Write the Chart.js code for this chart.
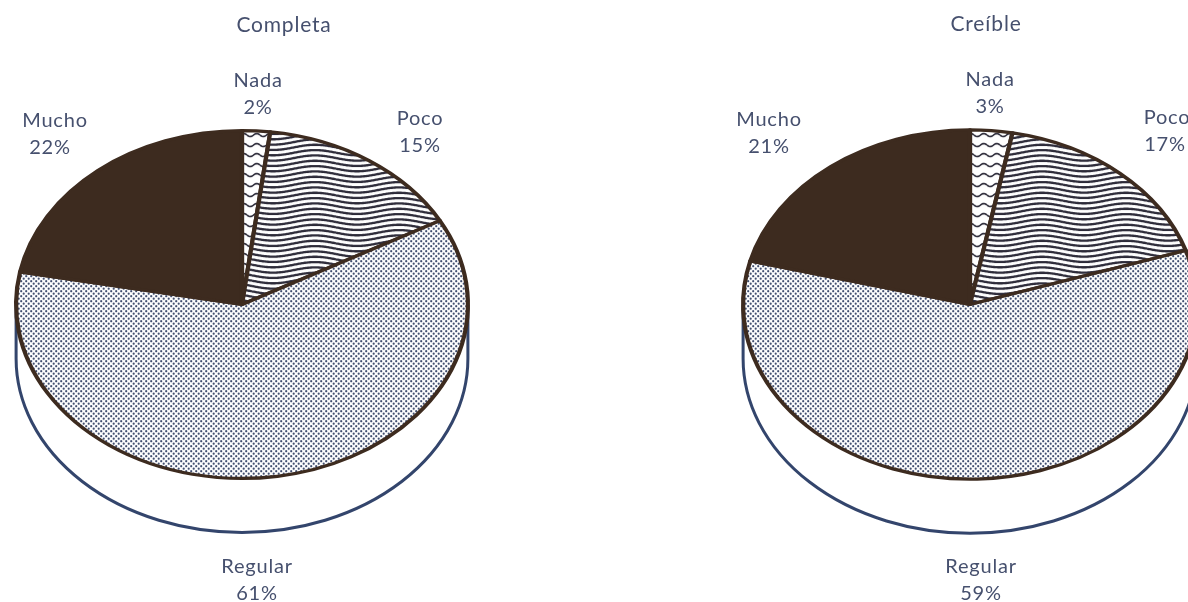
<!DOCTYPE html>
<html lang="es">
<head>
<meta charset="utf-8">
<title>Completa / Creíble</title>
<script src="https://cdn.jsdelivr.net/npm/chart.js@4/dist/chart.umd.min.js"></script>
<style>
    html, body { margin: 0; background: #fff; overflow: hidden; width: 1188px; height: 602px; }
    canvas { position: absolute; top: 0; }
    #pieLeft { left: 0; }
    #pieRight { left: 727px; }
</style>
</head>
<body>
<canvas id="pieLeft" width="484" height="602"></canvas>
<canvas id="pieRight" width="486" height="602"></canvas>

<script>
    var categories = ['Nada', 'Poco', 'Regular', 'Mucho'];
    var completaValues = [2, 15, 61, 22];
    var creibleValues = [3, 17, 59, 21];

    // the pie is tilted: squash y, and the wall hangs below it
    var SQUASH = 0.77;
    var WALL = 54;
    var BROWN = '#3d2b1f';
    var NAVY = '#33456c';
    var TEXT = '#46506e';

    function tile(w, h, paint) {
        var c = document.createElement('canvas');
        c.width = w;
        c.height = h;
        var g = c.getContext('2d');
        g.fillStyle = '#fff';
        g.fillRect(0, 0, w, h);
        paint(g);
        // undo the squash so the hatching keeps its own size
        var pattern = g.createPattern(c, 'repeat');
        pattern.setTransform(new DOMMatrix().scale(1, 1 / SQUASH));
        return pattern;
    }

    function waves(w, h, gap, amp, width, color) {
        return tile(w, h, function (g) {
            g.strokeStyle = color;
            g.lineWidth = width;
            for (var y = -gap; y < h + gap; y += gap) {
                g.beginPath();
                for (var x = 0; x <= w; x++) {
                    var yy = y + gap / 2 + amp * Math.sin(2 * Math.PI * x / w);
                    if (x === 0) g.moveTo(x, yy); else g.lineTo(x, yy);
                }
                g.stroke();
            }
        });
    }

    var stipple = tile(5, 5, function (g) {
        g.fillStyle = '#3c4a6c';
        [[1.2, 1.2], [3.7, 3.7]].forEach(function (p) {
            g.beginPath();
            g.arc(p[0], p[1], 1.1, 0, Math.PI * 2);
            g.fill();
        });
    });

    var sliceFills = [
        waves(13, 10, 10, 1.5, 1.6, '#2c2a38'),
        waves(84, 16, 16 / 3, 2.6, 2.3, '#2c2a38'),
        stipple,
        BROWN
    ];

    var tiltPlugin = {
        id: 'tilt',
        beforeDatasetsDraw: function (chart) {
            var arc = chart.getDatasetMeta(0).data[0];
            var ctx = chart.ctx;
            var r = arc.outerRadius;

            // side wall
            ctx.save();
            ctx.strokeStyle = NAVY;
            ctx.fillStyle = '#fff';
            ctx.lineWidth = 3;
            ctx.beginPath();
            ctx.moveTo(arc.x - r, arc.y);
            ctx.lineTo(arc.x - r, arc.y + WALL);
            ctx.ellipse(arc.x, arc.y + WALL, r, r * SQUASH, 0, Math.PI, 0, true);
            ctx.lineTo(arc.x + r, arc.y);
            ctx.fill();
            ctx.stroke();
            ctx.restore();

            ctx.save();
            ctx.translate(arc.x, arc.y);
            ctx.scale(1, SQUASH);
            ctx.translate(-arc.x, -arc.y);
        },
        afterDatasetsDraw: function (chart) {
            chart.ctx.restore();
        }
    };

    var textPlugin = {
        id: 'pieText',
        afterDraw: function (chart, args, opts) {
            var ctx = chart.ctx;
            var values = chart.data.datasets[0].data;
            ctx.save();
            ctx.fillStyle = TEXT;
            ctx.textAlign = 'center';
            ctx.textBaseline = 'middle';
            ctx.letterSpacing = '0.8px';
            ctx.font = '21px Lato';
            ctx.fillText(opts.title, opts.titleAt[0], opts.titleAt[1]);
            ctx.font = '20px Lato';
            chart.data.labels.forEach(function (name, i) {
                var spot = opts.spots[i];
                ctx.fillText(name, spot[0], spot[1]);
                ctx.fillText(values[i] + '%', spot[2], spot[1] + 26.5);
            });
            ctx.restore();
        }
    };

    function makePie(id, values, padding, title, titleAt, spots) {
        return new Chart(document.getElementById(id), {
            type: 'pie',
            data: {
                labels: categories,
                datasets: [{
                    data: values,
                    backgroundColor: sliceFills,
                    borderColor: BROWN,
                    borderWidth: 4.2,
                    borderJoinStyle: 'round',
                    clip: false
                }]
            },
            options: {
                responsive: false,
                animation: false,
                layout: { padding: padding },
                events: [],
                plugins: {
                    legend: { display: false },
                    tooltip: { enabled: false },
                    pieText: { title: title, titleAt: titleAt, spots: spots }
                }
            },
            plugins: [tiltPlugin, textPlugin]
        });
    }

    makePie('pieLeft', completaValues,
        { left: 14, right: 14, top: 76.5, bottom: 69.5 },
        'Completa', [284, 25],
        [[258, 81, 258], [420, 119, 420], [257, 567, 257], [55, 121, 50]]);
    makePie('pieRight', creibleValues,
        { left: 14, right: 14, top: 75.5, bottom: 68.5 },
        'Creíble', [259, 24],
        [[263, 80, 263], [440, 118, 438], [254, 567, 254], [42, 120, 42]]);
</script>
</body>
</html>
